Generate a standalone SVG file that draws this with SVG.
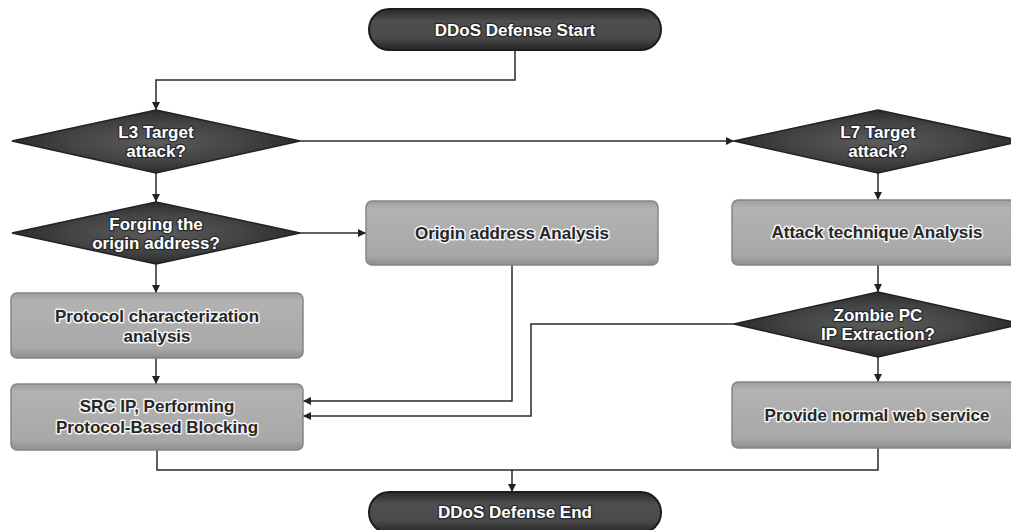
<svg xmlns="http://www.w3.org/2000/svg" width="1011" height="530" viewBox="0 0 1011 530">
  <defs>
    <linearGradient id="boxFill" x1="0" y1="0" x2="0" y2="1">
      <stop offset="0" stop-color="#9c9c9c"/>
      <stop offset="0.12" stop-color="#b2b2b2"/>
      <stop offset="0.85" stop-color="#a8a8a8"/>
      <stop offset="1" stop-color="#8e8e8e"/>
    </linearGradient>
    <radialGradient id="diaFill" cx="0.5" cy="0.5" r="0.5">
      <stop offset="0" stop-color="#5c5c5c"/>
      <stop offset="0.6" stop-color="#444"/>
      <stop offset="1" stop-color="#2c2c2c"/>
    </radialGradient>
    <linearGradient id="termFill" x1="0" y1="0" x2="0" y2="1">
      <stop offset="0" stop-color="#2a2a2a"/>
      <stop offset="0.3" stop-color="#4e4e4e"/>
      <stop offset="0.7" stop-color="#4a4a4a"/>
      <stop offset="1" stop-color="#262626"/>
    </linearGradient>
    <marker id="arrow" viewBox="0 0 10 10" refX="10" refY="5" markerWidth="8" markerHeight="8" markerUnits="userSpaceOnUse" orient="auto">
      <path d="M0,0 L10,5 L0,10 z" fill="#222"/>
    </marker>
  </defs>
  <style>
    .box { fill: url(#boxFill); stroke: #858585; stroke-width: 1.5; }
    .dia { fill: url(#diaFill); stroke: #222; stroke-width: 1.5; }
    .term { fill: url(#termFill); stroke: #1c1c1c; stroke-width: 2; }
    .t { font-family: "Liberation Sans", Arial, sans-serif; font-weight: bold; font-size: 17px; text-anchor: middle; }
    .dark { fill: #262626; stroke: #f4f4f4; stroke-width: 3; stroke-linejoin: round; paint-order: stroke; }
    .light { fill: #ffffff; stroke: #2a2a2a; stroke-width: 2.5; stroke-linejoin: round; paint-order: stroke; }
    .edge { fill: none; stroke: #2a2a2a; stroke-width: 1.5; }
  </style>
  <rect width="1011" height="530" fill="#ffffff"/>

  <!-- connectors -->
  <g id="connectors">
    <polyline class="edge" points="515,50 515,80 156,80 156,110" marker-end="url(#arrow)"/>
    <line class="edge" x1="300" y1="141" x2="734" y2="141" marker-end="url(#arrow)"/>
    <line class="edge" x1="156" y1="173" x2="156" y2="202" marker-end="url(#arrow)"/>
    <line class="edge" x1="300" y1="233" x2="366" y2="233" marker-end="url(#arrow)"/>
    <line class="edge" x1="156" y1="264" x2="156" y2="293" marker-end="url(#arrow)"/>
    <line class="edge" x1="156" y1="358" x2="156" y2="384" marker-end="url(#arrow)"/>
    <polyline class="edge" points="512,265 512,401 303,401" marker-end="url(#arrow)"/>
    <polyline class="edge" points="735,324 531,324 531,416 303,416" marker-end="url(#arrow)"/>
    <line class="edge" x1="878" y1="173" x2="878" y2="200" marker-end="url(#arrow)"/>
    <line class="edge" x1="878" y1="265" x2="878" y2="292" marker-end="url(#arrow)"/>
    <line class="edge" x1="878" y1="357" x2="878" y2="382" marker-end="url(#arrow)"/>
    <polyline class="edge" points="157,450 157,470 878,470 878,448"/>
    <line class="edge" x1="512" y1="470" x2="512" y2="492" marker-end="url(#arrow)"/>
  </g>

  <g id="start">
    <rect class="term" x="369" y="9" width="292" height="41" rx="20.5"/>
    <text class="t light" x="515" y="35.5">DDoS Defense Start</text>
  </g>

  <g id="l3">
    <polygon class="dia" points="156,110 300,141 156,173 12,141"/>
    <text class="t light" x="156" y="138">L3 Target</text>
    <text class="t light" x="156" y="157">attack?</text>
  </g>

  <g id="l7">
    <polygon class="dia" points="878,110 1022,141 878,173 734,141"/>
    <text class="t light" x="878" y="138">L7 Target</text>
    <text class="t light" x="878" y="157">attack?</text>
  </g>

  <g id="forging">
    <polygon class="dia" points="156,202 300,233 156,264 12,233"/>
    <text class="t light" x="156" y="230">Forging the</text>
    <text class="t light" x="156" y="249">origin address?</text>
  </g>

  <g id="origin">
    <rect class="box" x="366" y="201" width="292" height="64" rx="6"/>
    <text class="t dark" x="512" y="239">Origin address Analysis</text>
  </g>

  <g id="attack">
    <rect class="box" x="732" y="200" width="292" height="65" rx="6"/>
    <text class="t dark" x="877" y="238">Attack technique Analysis</text>
  </g>

  <g id="protocol">
    <rect class="box" x="11" y="293" width="292" height="65" rx="6"/>
    <text class="t dark" x="157" y="322">Protocol characterization</text>
    <text class="t dark" x="157" y="342">analysis</text>
  </g>

  <g id="zombie">
    <polygon class="dia" points="878,292 1022,324 878,357 734,324"/>
    <text class="t light" x="878" y="321">Zombie PC</text>
    <text class="t light" x="878" y="340">IP Extraction?</text>
  </g>

  <g id="src">
    <rect class="box" x="11" y="384" width="292" height="66" rx="6"/>
    <text class="t dark" x="157" y="412">SRC IP, Performing</text>
    <text class="t dark" x="157" y="433">Protocol-Based Blocking</text>
  </g>

  <g id="provide">
    <rect class="box" x="732" y="382" width="292" height="66" rx="6"/>
    <text class="t dark" x="877" y="421">Provide normal web service</text>
  </g>

  <g id="end">
    <rect class="term" x="369" y="492" width="292" height="41" rx="20.5"/>
    <text class="t light" x="515" y="518">DDoS Defense End</text>
  </g>
</svg>
